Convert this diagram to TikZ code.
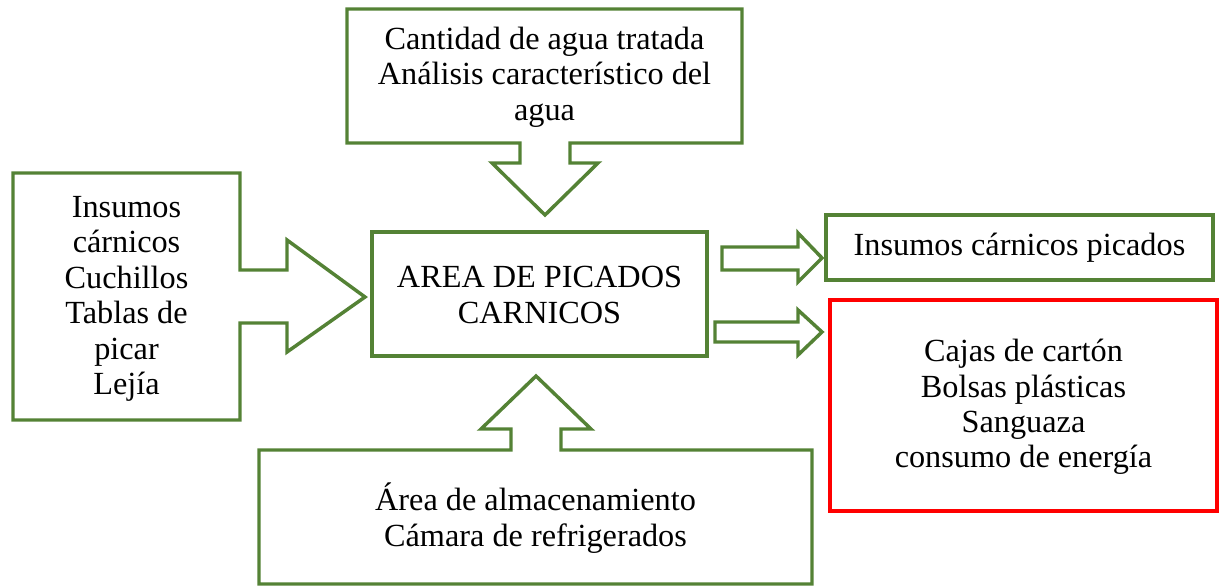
\documentclass[tikz,border=0pt]{standalone}
\usepackage{fontspec}
\setmainfont{Liberation Serif}
\definecolor{boxgreen}{HTML}{548235}
\definecolor{boxred}{HTML}{FF0000}
\tikzset{
  outline/.style={draw=boxgreen, line width=2.6pt, line join=miter, fill=white},
  redline/.style={draw=boxred, line width=2.6pt},
  label/.style={align=center, font=\fontsize{24.2}{26.6}\selectfont, inner sep=0pt}
}
\begin{document}
\begin{tikzpicture}[x=0.75pt,y=-0.75pt]
\useasboundingbox (0,0) rectangle (1226,586);
% top callout
\draw[outline] (347,9) -- (742,9) -- (742,143) -- (570,143) -- (570,163) -- (598,163)
  -- (545,215) -- (492,163) -- (520,163) -- (520,143) -- (347,143) -- cycle;
\node[label] (agua) at (544.5,77) {Cantidad de agua tratada\\Análisis característico del\\agua};
% left callout
\draw[outline] (13,173) -- (240,173) -- (240,270) -- (287,270) -- (287,240) -- (365,297)
  -- (287,352) -- (287,323) -- (240,323) -- (240,420) -- (13,420) -- cycle;
\node[label] (insumos) at (126.5,299) {Insumos\\cárnicos\\Cuchillos\\Tablas de\\picar\\Lejía};
% bottom callout
\draw[outline] (259,450) -- (511,450) -- (511,429) -- (481,429) -- (536,376) -- (591,429)
  -- (561,429) -- (561,450) -- (812,450) -- (812,584) -- (259,584) -- cycle;
\node[label] (almacen) at (535.5,518) {Área de almacenamiento\\Cámara de refrigerados};
% center box
\draw[outline] (372,232) rectangle (707,356);
\node[label] (area) at (539.5,295) {AREA DE PICADOS\\CARNICOS};
% right boxes
\draw[outline] (826,215) rectangle (1213,280);
\node[label] (picados) at (1019.5,248) {Insumos cárnicos picados};
\draw[redline] (830,300) rectangle (1217,511);
\node[label] (residuos) at (1023.5,407) {Cajas de cartón\\Bolsas plásticas\\Sanguaza\\consumo de energía};
% block arrows
\draw[outline] (722,247) -- (798,247) -- (798,233) -- (822,258) -- (798,282) -- (798,270) -- (722,270) -- cycle;
\draw[outline] (715,322) -- (798,322) -- (798,310) -- (822,332) -- (798,355) -- (798,342) -- (715,342) -- cycle;
\end{tikzpicture}
\end{document}
